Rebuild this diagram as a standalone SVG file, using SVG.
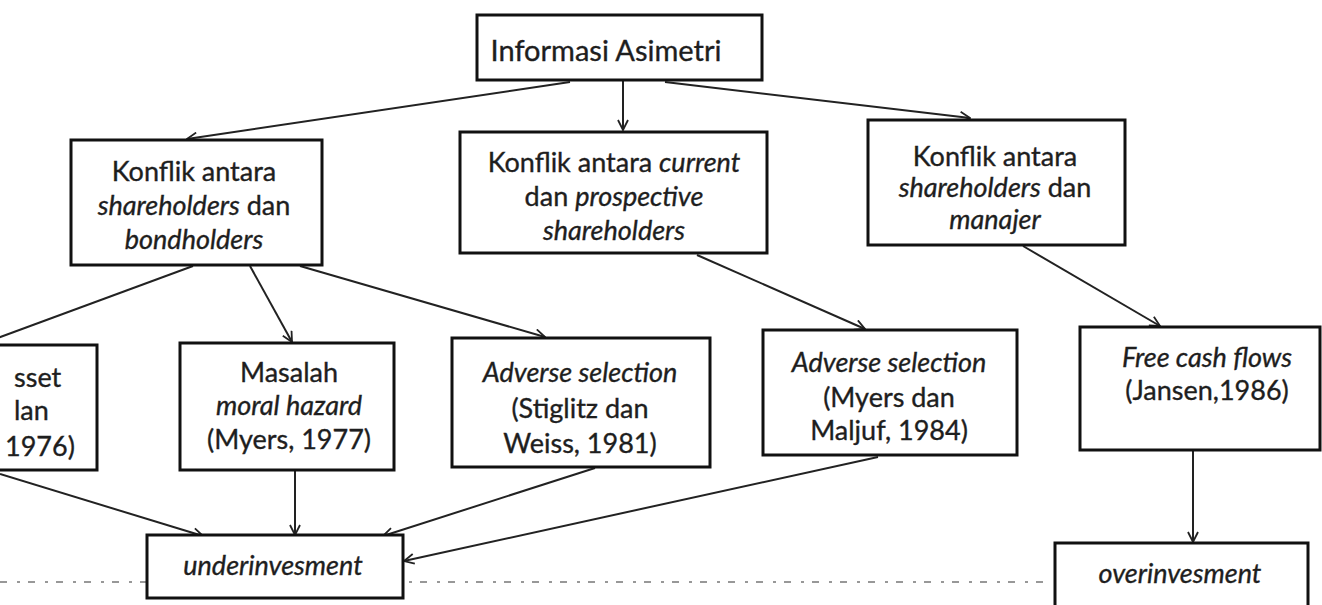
<svg xmlns="http://www.w3.org/2000/svg" width="1322" height="605" viewBox="0 0 1322 605">
  <style>
    .box { fill: #fff; stroke: #111; stroke-width: 3; }
    .t { font-family: Lato, "Open Sans", sans-serif; font-size: 27px; fill: #1e1e1e; stroke: #1e1e1e; stroke-width: 0.35; text-anchor: middle; }
    .big { font-size: 29px; }
    .l { text-anchor: start; }
    .i { font-style: italic; }
    .edge { fill: none; stroke: #222; stroke-width: 2; }
    .scan { fill: none; stroke: #777; stroke-width: 1.6; stroke-dasharray: 7 10 3 8; }
  </style>
  <defs>
    <marker id="arrow" viewBox="0 0 12 12" refX="11" refY="6" markerWidth="12" markerHeight="12" markerUnits="userSpaceOnUse" orient="auto">
      <path d="M1,1 L11,6 L1,11" fill="none" stroke="#222" stroke-width="1.8"/>
    </marker>
  </defs>
  <rect width="1322" height="605" fill="#fff"/>

  <!-- faint rule across the bottom row -->
  <path class="scan" d="M0,582 H1050"/>

  <g id="connectors">
    <path class="edge" marker-end="url(#arrow)" d="M570,82 L187,139"/>
    <path class="edge" marker-end="url(#arrow)" d="M623,80 L623,130"/>
    <path class="edge" marker-end="url(#arrow)" d="M665,82 L970,118"/>
    <path class="edge" d="M193,266 L-5,339"/>
    <path class="edge" marker-end="url(#arrow)" d="M250,266 L292,342"/>
    <path class="edge" marker-end="url(#arrow)" d="M300,266 L545,337"/>
    <path class="edge" marker-end="url(#arrow)" d="M697,255 L865,329"/>
    <path class="edge" marker-end="url(#arrow)" d="M1023,246 L1160,326"/>
    <path class="edge" marker-end="url(#arrow)" d="M0,474 L203,536"/>
    <path class="edge" marker-end="url(#arrow)" d="M295,471 L295,535"/>
    <path class="edge" marker-end="url(#arrow)" d="M595,468 L383,536"/>
    <path class="edge" marker-end="url(#arrow)" d="M878,457 L404,561"/>
    <path class="edge" marker-end="url(#arrow)" d="M1193,451 L1193,542"/>
  </g>

  <g id="informasi-asimetri">
    <rect class="box" x="477" y="15" width="285" height="65"/>
    <text class="t big" x="606" y="61">Informasi Asimetri</text>
  </g>

  <g id="konflik-shareholders-bondholders">
    <rect class="box" x="71" y="140" width="251" height="125"/>
    <text class="t" x="194" y="181">Konflik antara</text>
    <text class="t" x="194" y="215"><tspan class="i">shareholders</tspan> dan</text>
    <text class="t i" x="194" y="249">bondholders</text>
  </g>

  <g id="konflik-current-prospective">
    <rect class="box" x="460" y="132" width="307" height="121"/>
    <text class="t" x="614" y="172">Konflik antara <tspan class="i">current</tspan></text>
    <text class="t" x="614" y="206">dan <tspan class="i">prospective</tspan></text>
    <text class="t i" x="614" y="240">shareholders</text>
  </g>

  <g id="konflik-shareholders-manajer">
    <rect class="box" x="868" y="120" width="257" height="125"/>
    <text class="t" x="995" y="166">Konflik antara</text>
    <text class="t" x="995" y="197"><tspan class="i">shareholders</tspan> dan</text>
    <text class="t i" x="995" y="229">manajer</text>
  </g>

  <g id="asset-substitution">
    <rect class="box" x="-20" y="345" width="117" height="125"/>
    <text class="t l" x="14" y="387">sset</text>
    <text class="t l" x="14" y="420">lan</text>
    <text class="t l" x="5" y="456">1976)</text>
  </g>

  <g id="moral-hazard">
    <rect class="box" x="180" y="343" width="214" height="127"/>
    <text class="t" x="289" y="382">Masalah</text>
    <text class="t i" x="289" y="415">moral hazard</text>
    <text class="t" x="289" y="449">(Myers, 1977)</text>
  </g>

  <g id="adverse-selection-stiglitz">
    <rect class="box" x="452" y="338" width="258" height="129"/>
    <text class="t i" x="580" y="382">Adverse selection</text>
    <text class="t" x="580" y="418">(Stiglitz dan</text>
    <text class="t" x="580" y="453">Weiss, 1981)</text>
  </g>

  <g id="adverse-selection-myers">
    <rect class="box" x="763" y="330" width="254" height="125"/>
    <text class="t i" x="889" y="372">Adverse selection</text>
    <text class="t" x="889" y="407">(Myers dan</text>
    <text class="t" x="889" y="440">Maljuf, 1984)</text>
  </g>

  <g id="free-cash-flows">
    <rect class="box" x="1080" y="327" width="240" height="123"/>
    <text class="t i" x="1207" y="367">Free cash flows</text>
    <text class="t" x="1207" y="400">(Jansen,1986)</text>
  </g>

  <g id="underinvesment">
    <rect class="box" x="147" y="535" width="256" height="63"/>
    <text class="t i" x="273" y="575">underinvesment</text>
  </g>

  <g id="overinvesment">
    <rect class="box" x="1055" y="543" width="253" height="80"/>
    <text class="t i" x="1180" y="583">overinvesment</text>
  </g>
</svg>
